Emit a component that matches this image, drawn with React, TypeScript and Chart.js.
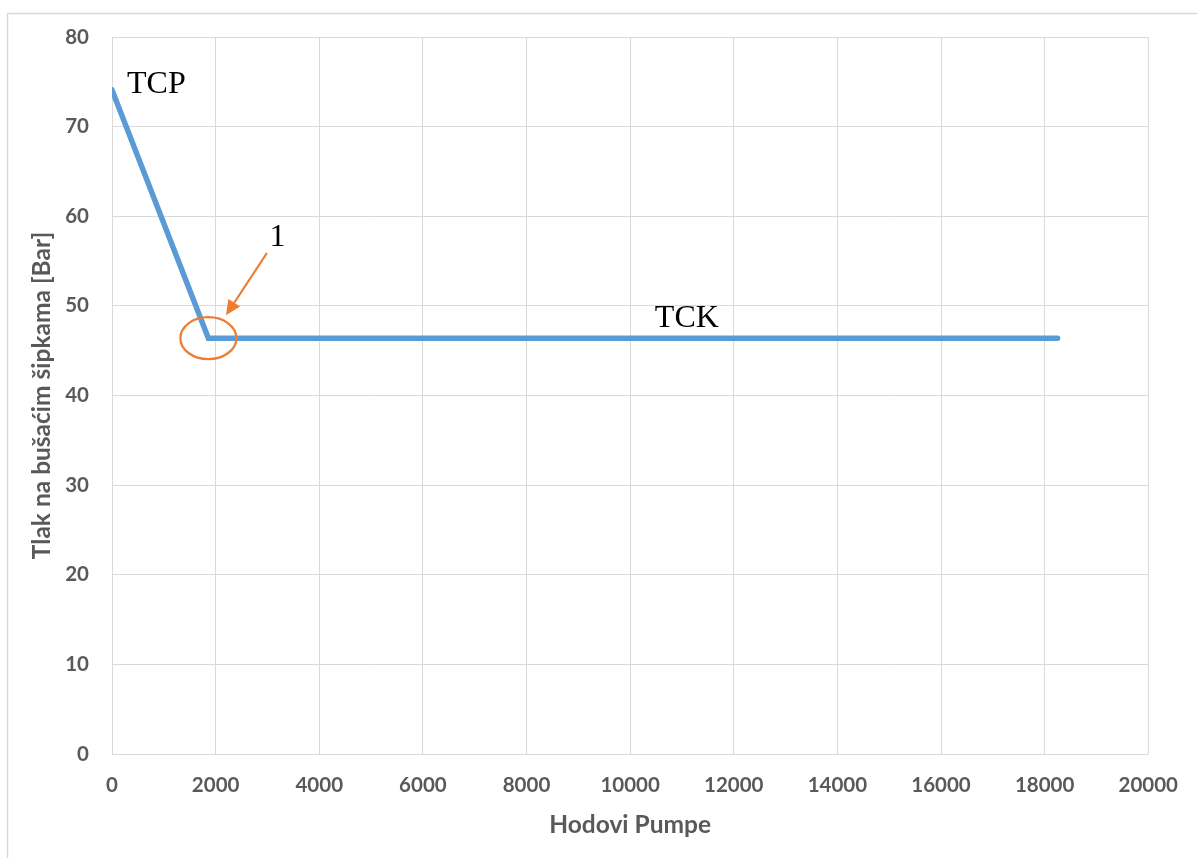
import React, { useEffect, useRef } from "react";
import { Chart, registerables } from "chart.js";

Chart.register(...registerables);

// ---- data ----
const strokes: number[] = [0, 1860, 18250];
const pressure: number[] = [74.1, 46.4, 46.4];
const xTickLabels: string[] = ["0", "2000", "4000", "6000", "8000", "10000", "12000", "14000", "16000", "18000", "20000"];
const yTickLabels: string[] = ["0", "10", "20", "30", "40", "50", "60", "70", "80"];
const xTitle = "Hodovi Pumpe";
const yTitle = "Tlak na bušaćim šipkama [Bar]";

// annotations anchored in data coordinates
const labelTCP = { text: "TCP", x: 290, y: 73.75 };
const labelTCK = { text: "TCK", x: 11095, y: 47.6 };
const labelOne = { text: "1", x: 3192, y: 56.65 };
const arrowFrom = { x: 2990, y: 55.9 };
const arrowTo = { x: 2200, y: 48.95 };
const knee = { x: 1860, y: 46.4 };

const ORANGE = "#ED7D31";
const BLUE = "#5B9BD5";
const GRID = "#D9D9D9";
const TICK = "#595959";

const annotationPlugin = {
  id: "annots",
  beforeDraw(chart: any) {
    const ctx = chart.ctx;
    ctx.save();
    ctx.strokeStyle = GRID;
    ctx.lineWidth = 1.5;
    ctx.strokeRect(7.5, 13.5, 1400, 1000);
    ctx.restore();
  },
  afterDatasetsDraw(chart: any) {
    const ctx = chart.ctx;
    const xs = chart.scales.x;
    const ys = chart.scales.y;
    const px = (v: number) => xs.getPixelForValue(v);
    const py = (v: number) => ys.getPixelForValue(v);
    ctx.save();
    ctx.fillStyle = "#000";
    ctx.font = '32px "Liberation Serif"';
    ctx.textBaseline = "alphabetic";
    ctx.textAlign = "left";
    ctx.fillText(labelTCP.text, px(labelTCP.x), py(labelTCP.y));
    ctx.textAlign = "center";
    ctx.fillText(labelTCK.text, px(labelTCK.x), py(labelTCK.y));
    ctx.fillText(labelOne.text, px(labelOne.x), py(labelOne.y));

    // ellipse around knee
    ctx.strokeStyle = ORANGE;
    ctx.lineWidth = 2.25;
    ctx.beginPath();
    ctx.ellipse(px(knee.x), py(knee.y), 28, 21, 0, 0, Math.PI * 2);
    ctx.stroke();

    // arrow
    const x1 = px(arrowFrom.x), y1 = py(arrowFrom.y);
    const x2 = px(arrowTo.x), y2 = py(arrowTo.y);
    const ang = Math.atan2(y2 - y1, x2 - x1);
    const headLen = 15, headW = 7;
    const bx = x2 - headLen * Math.cos(ang), by = y2 - headLen * Math.sin(ang);
    ctx.beginPath();
    ctx.moveTo(x1, y1);
    ctx.lineTo(bx, by);
    ctx.stroke();
    ctx.fillStyle = ORANGE;
    ctx.beginPath();
    ctx.moveTo(x2, y2);
    ctx.lineTo(bx + headW * Math.sin(ang), by - headW * Math.cos(ang));
    ctx.lineTo(bx - headW * Math.sin(ang), by + headW * Math.cos(ang));
    ctx.closePath();
    ctx.fill();
    ctx.restore();
  },
};

export default function App() {
  const ref = useRef<HTMLCanvasElement | null>(null);
  useEffect(() => {
    if (!ref.current) return;
    const chart = new Chart(ref.current, {
      type: "scatter",
      data: {
        datasets: [
          {
            data: strokes.map((x, i) => ({ x, y: pressure[i] })),
            showLine: true,
            borderColor: BLUE,
            backgroundColor: BLUE,
            borderWidth: 5.5,
            borderCapStyle: "round",
            borderJoinStyle: "miter",
            pointRadius: 0,
            pointHoverRadius: 0,
            tension: 0,
          },
        ],
      },
      options: {
        animation: false,
        responsive: false,
        maintainAspectRatio: false,
        layout: { padding: { top: 37, right: 46, left: 0, bottom: 0 } },
        plugins: { legend: { display: false }, tooltip: { enabled: false } },
        scales: {
          x: {
            type: "linear",
            min: 0,
            max: 20000,
            afterFit: (s: any) => { s.height = 104; },
            ticks: {
              stepSize: 2000,
              padding: 19,
              color: TICK,
              font: { family: "Lato", weight: "bold", size: 20.5 },
              callback: (_v: any, i: number) => xTickLabels[i],
              maxRotation: 0,
              autoSkip: false,
            },
            grid: { color: GRID, lineWidth: 1, drawTicks: false },
            border: { display: false },
            title: {
              display: true,
              text: xTitle,
              color: TICK,
              font: { family: "Lato", weight: "bold", size: 24.5 },
              padding: { top: 0, bottom: 18 },
            },
          },
          y: {
            type: "linear",
            min: 0,
            max: 80,
            afterFit: (s: any) => { s.width = 112; },
            ticks: {
              stepSize: 10,
              padding: 23,
              color: TICK,
              font: { family: "Lato", weight: "bold", size: 20.5 },
              callback: (_v: any, i: number) => yTickLabels[i],
            },
            grid: { color: GRID, lineWidth: 1, drawTicks: false },
            border: { display: false },
            title: {
              display: true,
              text: yTitle,
              color: TICK,
              font: { family: "Lato", weight: "bold", size: 24.5 },
              padding: { top: 27, bottom: 0 },
            },
          },
        },
      },
      plugins: [annotationPlugin],
    } as any);
    return () => chart.destroy();
  }, []);
  return (
    <div style={{ position: "absolute", left: 0, top: 0, width: 1197, height: 858, background: "#fff" }}>
      <canvas ref={ref} width={1197} height={858} style={{ width: 1197, height: 858 }} />
    </div>
  );
}
